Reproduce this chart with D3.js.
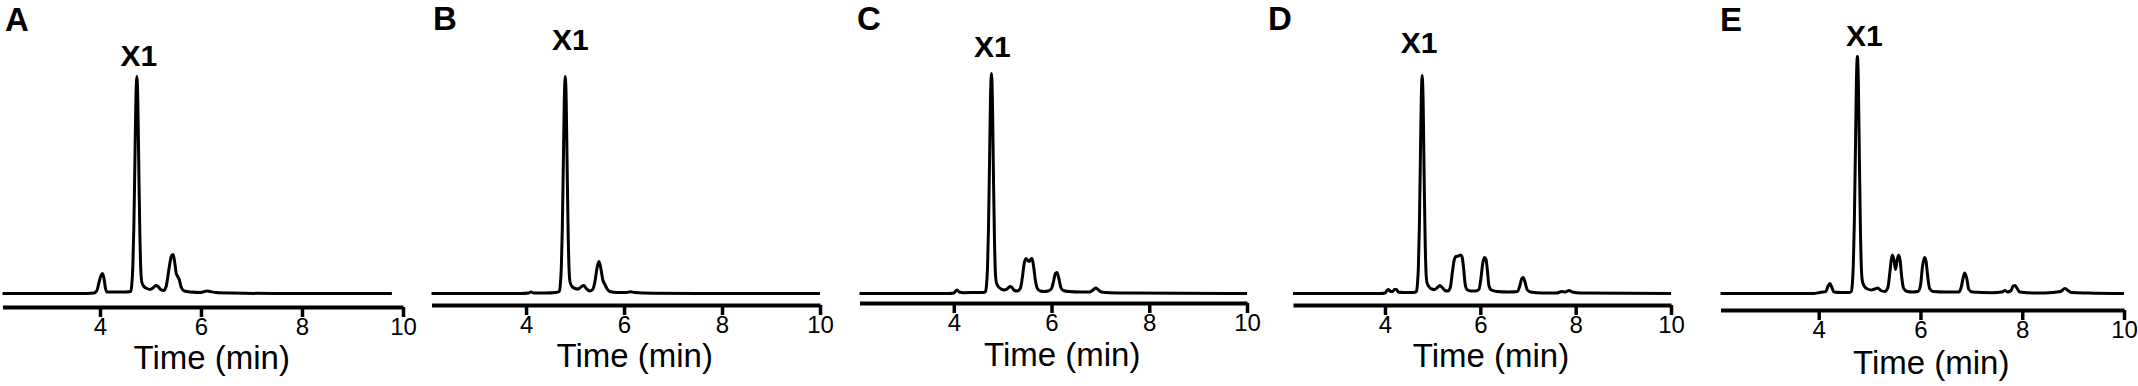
<!DOCTYPE html>
<html>
<head>
<meta charset="utf-8">
<script src="https://cdn.jsdelivr.net/npm/d3@7"></script>
<style>
  body { margin: 0; background: #fff; }
  text { font-family: "Liberation Sans", Arial, Helvetica, sans-serif; fill: #000; }
</style>
</head>
<body>
<div id="chart"></div>
<script>
var width = 2138,
    height = 386;

// panel letters, the labelled peak and the time axis
var panelNames = ["A", "B", "C", "D", "E"];
var peakLabel = "X1";
var peakTimes = [4.73, 4.80, 4.77, 4.78, 4.76];
var tickValues = [4, 6, 8, 10];
var axisTitle = "Time (min)";

// chromatogram traces, [time (min), signal]
var traceA = [[2.07,0],[3.6,0],[3.88,0.5],[3.94,3],[3.98,11],[4.02,18],[4.05,20],[4.08,15],[4.11,5],[4.14,1.5],[4.3,1.5],[4.5,1.5],
  [4.61,2],[4.63,9],[4.65,26],[4.67,65],[4.69,126],[4.71,191],[4.73,217],[4.75,191],[4.77,122],[4.79,59],[4.81,22],[4.83,11],
  [4.87,7],[4.93,5],[4.99,4],[5.05,5.5],[5.11,8],[5.15,7],[5.20,4],[5.26,3],[5.31,7],[5.35,19],[5.39,32],[5.42,38],[5.45,39],
  [5.48,31],[5.51,20],[5.54,17],[5.57,14],[5.61,6],[5.67,2.5],[5.8,1.5],[6.0,1],[6.07,2],[6.12,2.5],[6.18,2],[6.3,1],[6.6,0.5],
  [7.5,0],[9.78,0]];

var traceB = [[2.07,0],[3.9,0],[4.05,0.5],[4.1,1.5],[4.16,0.5],[4.4,0.5],[4.6,1],
  [4.68,2],[4.70,9],[4.72,26],[4.74,65],[4.76,126],[4.78,191],[4.80,217],[4.82,191],[4.84,122],[4.86,59],[4.88,22],[4.90,11],
  [4.94,7],[5.0,5],[5.06,4.5],[5.12,6.5],[5.18,8],[5.23,5],[5.3,2.5],[5.36,4],[5.41,13],[5.45,26],[5.49,32],[5.53,24],[5.57,13],
  [5.61,9],[5.65,5],[5.71,2],[5.85,1],[6.05,1],[6.13,1.8],[6.22,1],[6.6,0.3],[7.5,0],[10,0]];

var traceC = [[2.07,0],[3.9,0],[4.0,0.5],[4.04,2.5],[4.07,3.5],[4.11,1.5],[4.2,0.8],[4.5,1],[4.6,1],
  [4.65,2],[4.67,9],[4.69,26],[4.71,66],[4.73,128],[4.75,194],[4.77,220],[4.79,194],[4.81,123],[4.83,59],[4.85,22],[4.87,11],
  [4.91,7],[4.97,4.5],[5.03,3.5],[5.09,4.5],[5.15,7],[5.19,6],[5.24,3],[5.3,2.5],[5.36,5],[5.40,15],[5.44,30],[5.48,35],[5.51,33],
  [5.54,32],[5.57,34],[5.60,35],[5.63,28],[5.67,13],[5.71,5],[5.77,2.5],[5.85,2],[5.93,2.5],[6.0,5],[6.04,12],[6.08,20],[6.11,21],
  [6.15,15],[6.19,6],[6.24,3],[6.35,2],[6.6,1.5],[6.78,1.5],[6.85,3.5],[6.9,5.5],[6.95,4],[7.02,1.5],[7.2,0.8],[7.6,0.5],[10,0]];

var traceD = [[2.07,0],[3.9,0],[4.0,0.5],[4.04,3],[4.07,4],[4.12,2],[4.16,2],[4.2,4],[4.24,4],[4.28,1.5],[4.4,1],[4.6,1],
  [4.66,2],[4.68,9],[4.70,26],[4.72,65],[4.74,126],[4.76,192],[4.78,218],[4.80,192],[4.82,122],[4.84,59],[4.86,22],[4.88,11],
  [4.92,7],[4.98,4.5],[5.04,4],[5.1,6],[5.15,8],[5.2,6],[5.26,3],[5.32,2.5],[5.37,6],[5.41,20],[5.45,33],[5.49,37],[5.54,37.5],
  [5.59,38.5],[5.62,36],[5.65,25],[5.68,10],[5.72,4],[5.8,2.5],[5.9,2.5],[5.97,4],[6.01,14],[6.05,30],[6.09,36],[6.12,34],
  [6.15,22],[6.18,8],[6.23,3.5],[6.35,2],[6.6,1.5],[6.78,2],[6.83,8],[6.87,15],[6.90,16],[6.94,11],[6.98,4],[7.05,1.5],[7.3,0.5],
  [7.6,0.5],[7.71,2],[7.78,1.5],[7.86,3],[7.93,1.5],[8.1,0.5],[10,0]];

var traceE = [[2.07,0],[3.9,0],[4.02,1],[4.08,1.5],[4.14,2],[4.18,7],[4.22,10],[4.26,6],[4.3,1.5],[4.45,1],[4.6,1],
  [4.64,2],[4.66,9],[4.68,28],[4.70,71],[4.72,137],[4.74,209],[4.76,237],[4.78,209],[4.80,133],[4.82,64],[4.84,24],[4.86,12],
  [4.9,7],[4.96,4.5],[5.04,3.5],[5.1,4.5],[5.16,5.5],[5.22,3],[5.3,2],[5.36,6],[5.40,22],[5.43,35],[5.45,38.5],[5.48,33],
  [5.51,24],[5.54,33],[5.57,38.5],[5.60,33],[5.63,17],[5.67,5],[5.74,2],[5.85,1.5],[5.95,2],[6.0,8],[6.04,27],[6.08,36],
  [6.11,32],[6.14,18],[6.18,5],[6.25,2],[6.5,1.5],[6.75,1.5],[6.8,6],[6.84,16],[6.87,20.5],[6.91,15],[6.95,4],[7.02,1.5],
  [7.4,0.8],[7.6,1.5],[7.66,3],[7.71,1.5],[7.78,3],[7.82,7.5],[7.86,8],[7.9,5],[7.95,1.5],[8.3,0.5],[8.6,1],[8.75,2],
  [8.84,5],[8.9,3],[8.97,1],[9.3,0.5],[10,0]];

var traces = [traceA, traceB, traceC, traceD, traceE];

// where each panel sits on the page
var layout = [
  {x0: 2.5,    x1: 403,  axisY: 307, letterX: 5,    letterY: 31, labelY: 66, labelDx: 2, titleY: 369},
  {x0: 431.5,  x1: 820,  axisY: 305, letterX: 433,  letterY: 30, labelY: 50, labelDx: 5, titleY: 367},
  {x0: 859.5,  x1: 1247, axisY: 303, letterX: 857,  letterY: 30, labelY: 57, labelDx: 1, titleY: 366},
  {x0: 1293,   x1: 1671, axisY: 305, letterX: 1268, letterY: 30, labelY: 53, labelDx: -3, titleY: 367},
  {x0: 1720.5, x1: 2124, axisY: 310, letterX: 1720, letterY: 31, labelY: 46, labelDx: 7, titleY: 374}
];

var svg = d3.select('#chart')
  .append("svg")
  .attr("width", width)
  .attr("height", height)
  .style("background", "#fff")

var y = d3.scaleLinear().domain([0, 240]).range([293.5, 53.5])

panelNames.forEach(function(name, i) {
  var L = layout[i]
  var x = d3.scaleLinear().domain([2.07, 10]).range([L.x0, L.x1])
  var g = svg.append("g")

  var line = d3.line()
    .x(function(d) { return x(d[0]) })
    .y(function(d) { return y(d[1]) })
    .curve(d3.curveMonotoneX)

  g.append("path")
    .datum(traces[i])
    .attr("d", line)
    .attr("fill", "none")
    .attr("stroke", "#000")
    .attr("stroke-width", 3)
    .attr("stroke-linejoin", "round")

  var axis = d3.axisBottom(x)
    .tickValues(tickValues)
    .tickSize(10)
    .tickSizeOuter(0)
    .tickPadding(1)

  var ax = g.append("g")
    .attr("transform", "translate(0," + L.axisY + ")")
    .call(axis)
    .attr("font-size", 24)
    .attr("font-family", '"Liberation Sans", Arial, sans-serif')
  ax.select(".domain").attr("stroke", "#000").attr("stroke-width", 4)
  ax.selectAll(".tick line").attr("stroke", "#000").attr("stroke-width", 3.5)
  ax.selectAll(".tick text").attr("fill", "#000")

  g.append("text")
    .attr("x", (L.x0 + L.x1) / 2 + 9)
    .attr("y", L.titleY)
    .attr("text-anchor", "middle")
    .style("font-size", "33px")
    .text(axisTitle)

  g.append("text")
    .attr("x", L.letterX)
    .attr("y", L.letterY)
    .style("font-size", "33px")
    .style("font-weight", "bold")
    .text(name)

  g.append("text")
    .attr("x", x(peakTimes[i]) + L.labelDx)
    .attr("y", L.labelY)
    .attr("text-anchor", "middle")
    .style("font-size", "30px")
    .style("font-weight", "bold")
    .text(peakLabel)
})
</script>
</body>
</html>
